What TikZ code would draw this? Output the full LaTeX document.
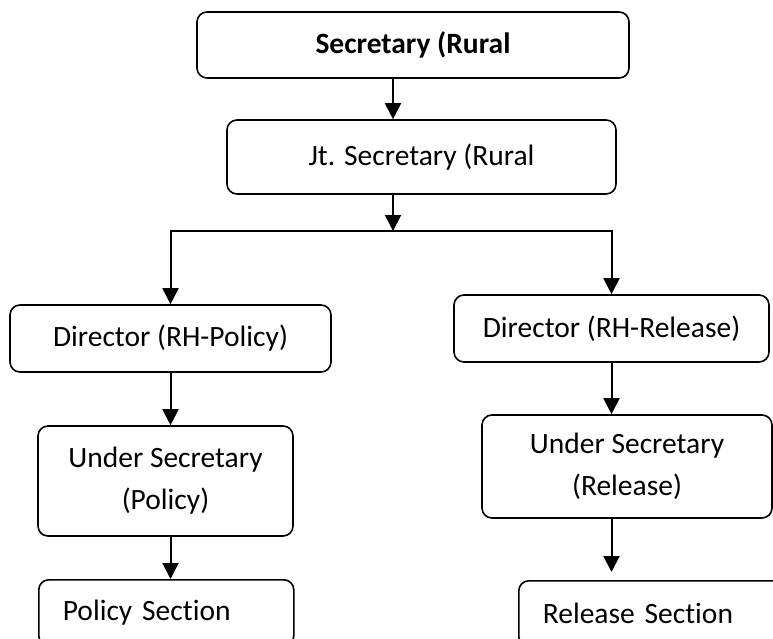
\documentclass[tikz,border=0pt]{standalone}
\usepackage{fontspec}
\setmainfont[Ligatures=NoCommon]{Carlito}
\usetikzlibrary{arrows.meta}
\tikzset{
  unit/.style={draw, line width=1.6pt, rounded corners=10pt, inner sep=0pt,
    font=\fontsize{29.5}{42}\selectfont, align=center},
  sect/.style={unit, anchor=north west, align=left, inner xsep=24pt},
  arr/.style={line width=2pt, -{Triangle[length=16pt,width=16pt]}}
}
\begin{document}
\begin{tikzpicture}[x=1pt,y=-1pt]
      \useasboundingbox[fill=white] (0,0) rectangle (773,639);
      \clip (0,0) rectangle (773,639);
      %%%%%%%%%%%%%%%%%%%%%%%%%%%%%%%%%%%%%%%%%%%%%%%
      \node[unit, minimum width=432pt, minimum height=66pt] at (413,45)  (sec) {\textbf{Secretary (Rural}};
      \node[unit, minimum width=389pt, minimum height=74pt] at (421.5,157) (jt) {Jt. Secretary (Rural};
      \coordinate (split) at (393,231);
      \draw[arr] (sec.south -| split) -- (jt.north -| split);
      \draw[arr] (jt.south -| split) -- (split);
      %%%%%%%%%%%%%%%%%%%%%%%%%%%%%%%%%%%%%%%%%%%%%%%
      \node[unit, minimum width=321pt, minimum height=67pt] at (170.5,338.5) (dpol) {Director (RH-Policy)};
      \node[unit, minimum width=315pt, minimum height=67pt] at (611.5,328.5) (drel) {Director (RH-Release)};
      \draw[arr] (split) -| (dpol.north);
      \draw[arr] (split) -| (drel.north);
      %%%%%%%%%%%%%%%%%%%%%%%%%%%%%%%%%%%%%%%%%%%%%%%
      \node[unit, minimum width=255pt, minimum height=110pt] at (165.5,481) (upol) {Under Secretary\\(Policy)};
      \node[unit, minimum width=290pt, minimum height=103pt] at (627,466.5) (urel) {Under Secretary\\(Release)};
      \draw[arr] (dpol.south) -- (dpol.south |- upol.north);
      \draw[arr] (drel.south) -- (drel.south |- urel.north);
      %%%%%%%%%%%%%%%%%%%%%%%%%%%%%%%%%%%%%%%%%%%%%%%
      \node[sect, minimum width=255pt, minimum height=66pt, text width=207pt] at (38,579) (psec) {Policy Section};
      \node[sect, minimum width=290pt, minimum height=66pt, text width=242pt] at (518,580) (rsec) {Release Section};
      \draw[arr] (upol.south -| dpol.south) -- (psec.north -| dpol.south);
      \draw[arr] (urel.south -| drel.south) -- ([yshift=8pt]rsec.north -| drel.south);
\end{tikzpicture}
\end{document}
